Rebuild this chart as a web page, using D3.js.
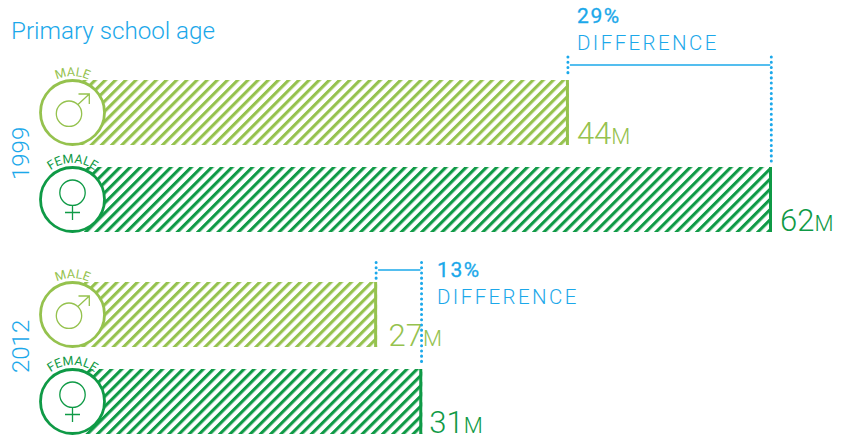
<!DOCTYPE html>
<html><head><meta charset="utf-8">
<script src="https://cdn.jsdelivr.net/npm/d3@7"></script>
<style>html,body{margin:0;padding:0;background:#fff}svg{display:block}text{font-family:Roboto,"Liberation Sans",sans-serif}</style>
</head><body><svg id="c" width="853" height="436"></svg>
<script>
const years=["1999","2012"];
const genders=["MALE","FEMALE"];
const maleValues=[44,27];
const femaleValues=[62,31];
const differences=["29%","13%"];
const title="Primary school age";
const diffWord="DIFFERENCE";
const unit="M";

const LIGHT="#95c24e",DARK="#0f9a46",BLUE="#1ba8ea";
const svg=d3.select("#c");
const x=d3.scaleLinear().domain([0,62]).range([72.5,772]);
const rowTop={ "1999":{MALE:80,FEMALE:167},"2012":{MALE:282,FEMALE:369}};
const labelGap={ "1999":{MALE:8,FEMALE:8},"2012":{MALE:11.5,FEMALE:7}};
const barH=65,R=32;
const defs=svg.append("defs");
[["hl",LIGHT],["hd",DARK]].forEach(([id,c])=>{
  defs.append("pattern").attr("id",id).attr("patternUnits","userSpaceOnUse")
    .attr("width",7.2).attr("height",7.2).attr("patternTransform","rotate(-45)")
    .append("rect").attr("width",7.2).attr("height",3.1).attr("fill",c);
});
svg.append("text").attr("x",11).attr("y",39).attr("font-size",24.2).attr("font-weight",300).attr("fill",BLUE).text(title);

const rows=[];
years.forEach((y,i)=>{
  rows.push({y,g:genders[0],v:maleValues[i],c:LIGHT,p:"hl"});
  rows.push({y,g:genders[1],v:femaleValues[i],c:DARK,p:"hd"});
});
rows.forEach((r,i)=>{
  const top=rowTop[r.y][r.g],cy=top+barH/2,cx=x(0),xe=x(r.v);
  const g=svg.append("g");
  g.append("rect").attr("x",cx).attr("y",top).attr("width",xe-cx).attr("height",barH).attr("fill",`url(#${r.p})`);
  g.append("rect").attr("x",xe-3).attr("y",top).attr("width",3).attr("height",barH).attr("fill",r.c);
  g.append("circle").attr("cx",cx).attr("cy",cy).attr("r",R).attr("fill","#fff").attr("stroke",r.c).attr("stroke-width",2.8);
  const s=g.append("g").attr("fill","none").attr("stroke",r.c).attr("stroke-width",1.3);
  if(r.g==="MALE"){
    s.append("circle").attr("cx",cx-3.5).attr("cy",cy+1.2).attr("r",12.7);
    s.append("path").attr("d",`M${cx+5.5} ${cy-8}L${cx+16.8} ${cy-18.5}M${cx+6} ${cy-18.5}H${cx+16.8}V${cy-8.5}`);
  }else{
    s.append("circle").attr("cx",cx).attr("cy",cy-6.8).attr("r",12.7);
    s.append("path").attr("d",`M${cx} ${cy+6}V${cy+20.5}M${cx-7.5} ${cy+13}H${cx+7.5}`);
  }
  const id="arc"+i;
  const ar=R+4.5;
  defs.append("path").attr("id",id).attr("d",`M${cx-ar} ${cy}A${ar} ${ar} 0 0 1 ${cx+ar} ${cy}`);
  g.append("text").attr("font-size",12.5).attr("fill",r.c).attr("font-weight",400).attr("text-anchor","middle")
    .append("textPath").attr("href","#"+id).attr("startOffset","50%").text(r.g);
  const vt=g.append("text").attr("x",xe+labelGap[r.y][r.g]).attr("y",top+barH-1).attr("fill",r.c).attr("font-weight",300).attr("font-size",31);
  vt.append("tspan").text(r.v);
  vt.append("tspan").attr("font-size",22).text(unit);
});

years.forEach((y,i)=>{
  const yy=[180,373][i];
  svg.append("text").attr("transform",`translate(29,${yy}) rotate(-90)`).attr("font-size",24).attr("font-weight",300).attr("fill",BLUE).text(y);
});

const brackets=[
 {a:maleValues[0],b:femaleValues[0],yl:65,top1:57,bot1:73,top2:57,bot2:161,tx:577,ty1:23,ty2:50,label:differences[0]},
 {a:maleValues[1],b:femaleValues[1],yl:270,top1:262.5,bot1:280,top2:262.5,bot2:365,tx:437,ty1:277,ty2:304,label:differences[1]}
];
brackets.forEach(b=>{
  const xa=x(b.a)-1,xb=x(b.b)-0.7;
  const dot=(xx,y1,y2)=>svg.append("line").attr("x1",xx).attr("x2",xx).attr("y1",y1).attr("y2",y2)
    .attr("stroke",BLUE).attr("stroke-width",3).attr("stroke-linecap","round").attr("stroke-dasharray","0.1 5.1");
  dot(xa,b.top1,b.bot1); dot(xb,b.top2,b.bot2);
  svg.append("line").attr("x1",xa+2).attr("x2",xb-1).attr("y1",b.yl).attr("y2",b.yl).attr("stroke",BLUE).attr("stroke-width",1.6);
  svg.append("text").attr("x",b.tx).attr("y",b.ty1).attr("font-size",21).attr("font-weight",400).attr("letter-spacing",1.6).attr("fill",BLUE).attr("stroke",BLUE).attr("stroke-width",0.3).text(b.label);
  svg.append("text").attr("x",b.tx).attr("y",b.ty2).attr("font-size",20.5).attr("font-weight",300).attr("letter-spacing",2.4).attr("fill",BLUE).text(diffWord);
});
</script></body></html>
